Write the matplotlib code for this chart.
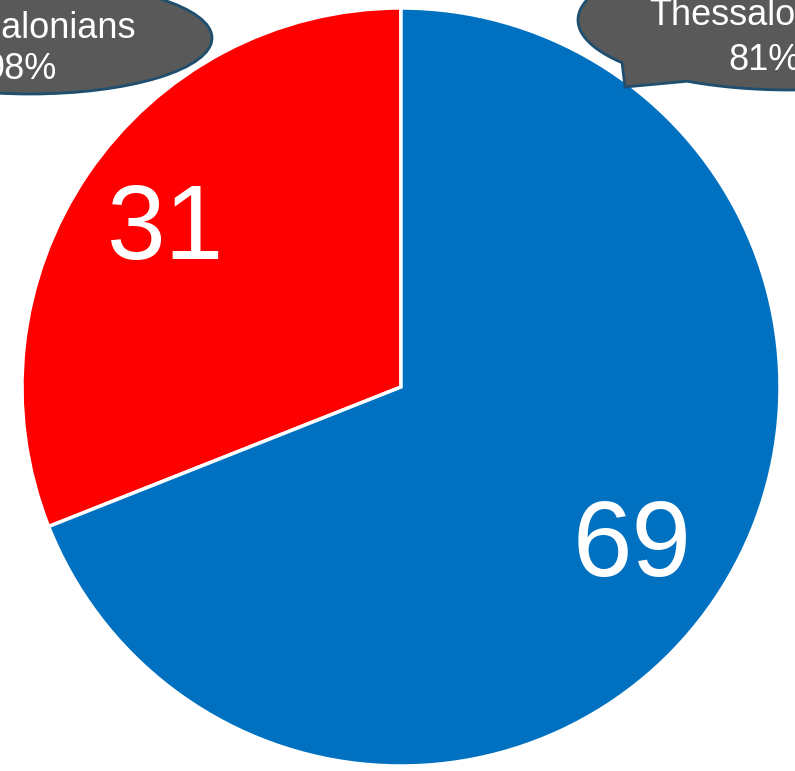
import numpy as np
import matplotlib
matplotlib.use('Agg')
from matplotlib import pyplot as plt
from matplotlib.patches import Ellipse, Polygon

# data
categories = ['Other', 'Thessalonians']
shares = [31, 69]
slice_colors = ['#FF0000', '#0070C0']
callout_texts = ['Thessalonians\n98%', 'Thessalonians\n81%']

W, H = 795, 771
plt.rcParams['font.family'] = ['Liberation Sans', 'DejaVu Sans']

fig = plt.figure(figsize=(W / 100, H / 100), dpi=100)
ax = fig.add_axes([0, 0, 1, 1])

wedges, _ = ax.pie(
    shares, colors=slice_colors, startangle=90, counterclock=True,
    center=(401, H - 387), radius=379,
    wedgeprops=dict(edgecolor='white', linewidth=2.5)
)
ax.set_xlim(0, W)
ax.set_ylim(0, H)
ax.set_aspect('equal')
ax.axis('off')

# slice value labels
ax.text(166, H - 232, str(shares[0]), color='white', fontsize=76,
        ha='center', va='center')
ax.text(632, H - 548, str(shares[1]), color='white', fontsize=77,
        ha='center', va='center')

fill = '#595959'
edge = '#1F4E6E'

# left callout: plain ellipse
ax.add_patch(Ellipse((30, H - 38), 364, 112, facecolor=fill, edgecolor=edge,
                     linewidth=2, zorder=5))
ax.text(20, H - 49, callout_texts[0], color='white', fontsize=26,
        ha='center', va='center', linespacing=1.25, zorder=6)

# right callout: ellipse with a pointer to the lower left
cx, cy, a, b = 790, 20, 212, 70
t = np.radians(np.linspace(142.4, 479, 200))
px = cx + a * np.cos(t)
py = cy + b * np.sin(t)
pts = list(zip(px, H - py)) + [(625, H - 87)]
ax.add_patch(Polygon(pts, closed=True, facecolor=fill, edgecolor=edge,
                     linewidth=2, zorder=5))
ax.text(765, H - 38, callout_texts[1], color='white', fontsize=26,
        ha='center', va='center', linespacing=1.35, zorder=6)

fig.savefig('out.png', dpi=100)
